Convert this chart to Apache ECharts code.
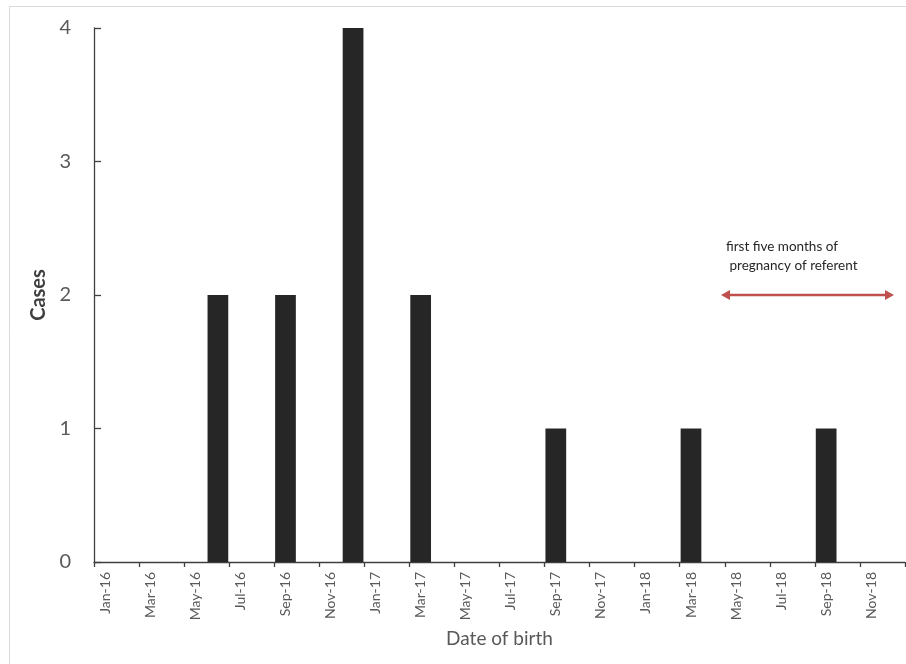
<!DOCTYPE html>
<html>
<head>
<meta charset="utf-8">
<script src="https://cdn.jsdelivr.net/npm/echarts@6/dist/echarts.min.js"></script>
<style>
html,body{margin:0;padding:0;background:#fff;}
#chart{width:906px;height:664px;}
</style>
</head>
<body>
<div id="chart"></div>
<script>
// Monthly categories Jan-16 .. Dec-18
const months = [
  'Jan-16','Feb-16','Mar-16','Apr-16','May-16','Jun-16','Jul-16','Aug-16','Sep-16','Oct-16','Nov-16','Dec-16',
  'Jan-17','Feb-17','Mar-17','Apr-17','May-17','Jun-17','Jul-17','Aug-17','Sep-17','Oct-17','Nov-17','Dec-17',
  'Jan-18','Feb-18','Mar-18','Apr-18','May-18','Jun-18','Jul-18','Aug-18','Sep-18','Oct-18','Nov-18','Dec-18'
];
const cases = [
  0,0,0,0,0,2,0,0,2,0,0,4,
  0,0,2,0,0,0,0,0,1,0,0,0,
  0,0,1,0,0,0,0,0,1,0,0,0
];
const yTicks = [0,1,2,3,4];
const annotationLines = ['first five months of', ' pregnancy of referent'];

const FONT = 'Lato, "Open Sans", sans-serif';
const chart = echarts.init(document.getElementById('chart'));
chart.setOption({
  animation: false,
  backgroundColor: '#fff',
  grid: { left: 94, right: 1, top: 28, bottom: 102, containLabel: false },
  xAxis: {
    type: 'category',
    data: months,
    boundaryGap: true,
    name: 'Date of birth',
    nameLocation: 'middle',
    nameGap: 67,
    nameTextStyle: { fontFamily: FONT, fontSize: 19, color: '#595959' },
    axisLine: { lineStyle: { color: '#404040', width: 1.3 } },
    axisTick: { show: true, interval: 1, alignWithLabel: false, length: 5, lineStyle: { color: '#404040', width: 1.3 } },
    axisLabel: { interval: 1, rotate: 90, margin: 10, fontFamily: FONT, fontSize: 14, color: '#595959' },
    splitLine: { show: false }
  },
  yAxis: {
    type: 'value',
    min: yTicks[0],
    max: yTicks[yTicks.length - 1],
    interval: 1,
    name: 'Cases',
    nameLocation: 'middle',
    nameGap: 37,
    nameTextStyle: { fontFamily: FONT, fontSize: 20, fontWeight: 'bold', color: '#404040' },
    axisLine: { show: true, lineStyle: { color: '#404040', width: 1.3 } },
    axisTick: { show: true, inside: true, length: 7, lineStyle: { color: '#404040', width: 1.3 } },
    axisLabel: { margin: 23, fontFamily: FONT, fontSize: 20, color: '#595959' },
    splitLine: { show: false }
  },
  series: [{
    type: 'bar',
    data: cases,
    barCategoryGap: '8%',
    itemStyle: { color: '#262626', borderWidth: 0 }
  }],
  graphic: [
    { type: 'rect', shape: { x: 9.5, y: 6.5, width: 1000, height: 1000 }, style: { fill: 'none', stroke: '#d9d9d9', lineWidth: 1 }, silent: true },
    { type: 'text', left: 726, top: 240, style: { text: annotationLines[0], font: '13.5px ' + FONT, fill: '#262626' } },
    { type: 'text', left: 726, top: 259, style: { text: annotationLines[1], font: '13.5px ' + FONT, fill: '#262626' } },
    { type: 'line', shape: { x1: 726, y1: 295, x2: 889, y2: 295 }, style: { stroke: '#c0504d', lineWidth: 2.5 } },
    { type: 'polygon', shape: { points: [[721, 295], [730, 290], [730, 300]] }, style: { fill: '#c0504d' } },
    { type: 'polygon', shape: { points: [[894, 295], [885, 290], [885, 300]] }, style: { fill: '#c0504d' } }
  ]
});
</script>
</body>
</html>
